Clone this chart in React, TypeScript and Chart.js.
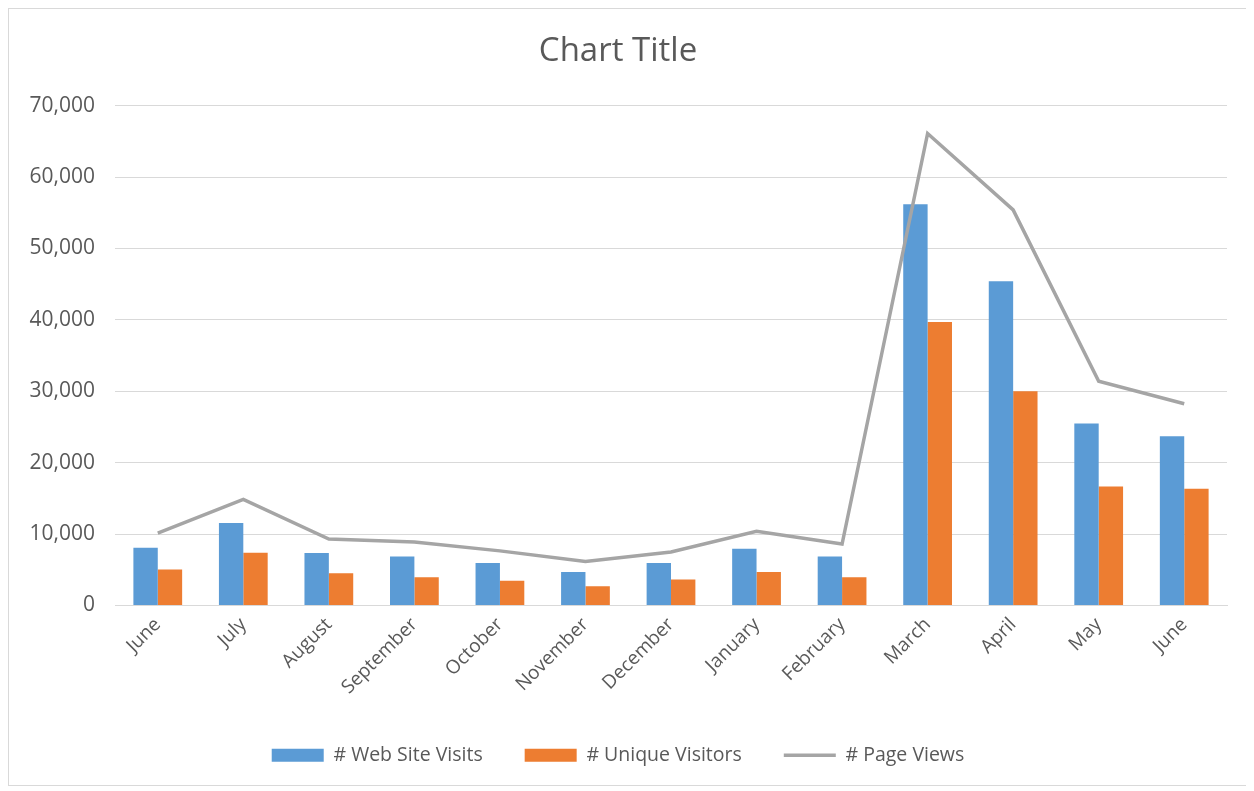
import React, { useEffect, useRef } from "react";
import { Chart, registerables } from "chart.js";

Chart.register(...registerables);

const categories = ["June", "July", "August", "September", "October", "November", "December", "January", "February", "March", "April", "May", "June"];
const webSiteVisits = [8100, 11550, 7350, 6850, 5950, 4700, 5950, 7950, 6850, 56200, 45400, 25500, 23700];
const uniqueVisitors = [5050, 7400, 4500, 3950, 3450, 2700, 3650, 4700, 3950, 39700, 30000, 16650, 16350];
const pageViews = [10150, 14850, 9300, 8900, 7650, 6150, 7500, 10400, 8600, 66100, 55400, 31400, 28250];
const yTicks = [0, 10000, 20000, 30000, 40000, 50000, 60000, 70000];

const FONT = "'Open Sans', 'Liberation Sans', sans-serif";
const TEXT = "#595959";

export default function App() {
  const ref = useRef<HTMLCanvasElement | null>(null);
  useEffect(() => {
    if (!ref.current) return;
    const chart = new Chart(ref.current, {
      type: "bar",
      data: {
        labels: categories,
        datasets: [
          { type: "bar", label: "# Web Site Visits", data: webSiteVisits, backgroundColor: "#5b9bd5", order: 2, barPercentage: 1, categoryPercentage: 0.57 },
          { type: "bar", label: "# Unique Visitors", data: uniqueVisitors, backgroundColor: "#ed7d31", order: 2, barPercentage: 1, categoryPercentage: 0.57 },
          { type: "line", label: "# Page Views", data: pageViews, borderColor: "#a5a5a5", backgroundColor: "#a5a5a5", borderWidth: 3.5, pointRadius: 0, tension: 0, order: 1 },
        ],
      },
      options: {
        animation: false,
        responsive: false,
        maintainAspectRatio: false,
        layout: { padding: { top: 14, left: 0, right: 20, bottom: 10 } },
        plugins: {
          title: { display: true, text: "Chart Title", color: TEXT, font: { family: FONT, size: 33, weight: "normal" }, padding: { top: 9, bottom: 34 } },
          legend: {
            position: "bottom",
            labels: {
              color: TEXT,
              font: { family: FONT, size: 19.5 },
              usePointStyle: true,
              pointStyleWidth: 52,
              boxHeight: 13,
              padding: 42,
              sort: (a: any, b: any) => a.datasetIndex - b.datasetIndex,
              generateLabels: (c: any) => {
                const items = Chart.defaults.plugins.legend.labels.generateLabels(c);
                return items.map((it: any) => ({
                  ...it,
                  pointStyle: it.datasetIndex === 2 ? "line" : "rect",
                  lineWidth: it.datasetIndex === 2 ? 3.5 : 0,
                }));
              },
            },
          },
          tooltip: { enabled: false },
        },
        scales: {
          x: {
            grid: { display: false, drawTicks: false },
            border: { display: true, color: "#d9d9d9", width: 1 },
            ticks: { color: TEXT, font: { family: FONT, size: 19 }, minRotation: 45, maxRotation: 45, padding: 8 },
            afterFit: (s: any) => { s.height = 98; },
          },
          y: {
            min: 0,
            max: 70000,
            afterBuildTicks: (axis: any) => { axis.ticks = yTicks.map((v) => ({ value: v })); },
            grid: { color: "#d9d9d9", drawTicks: false },
            border: { display: false },
            ticks: { color: TEXT, font: { family: FONT, size: 21 }, padding: 20, callback: (v: any) => Number(v).toLocaleString("en-US") },
            afterFit: (s: any) => { s.width = 106; },
          },
        },
      },
    });
    return () => chart.destroy();
  }, []);
  return (
    <div style={{ width: 1240, height: 778, border: "1px solid #d9d9d9", boxSizing: "border-box", background: "#fff" }}>
      <canvas ref={ref} width={1238} height={776} style={{ display: "block" }} />
    </div>
  );
}
